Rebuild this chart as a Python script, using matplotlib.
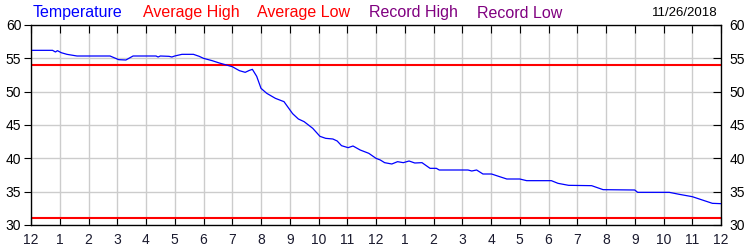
import matplotlib
matplotlib.use("Agg")
import matplotlib.pyplot as plt

plt.rcParams['font.family'] = ['Liberation Sans', 'DejaVu Sans']

# temperature trace, hours since midnight
hours = [0, 0.75, 0.85, 0.92, 1.05, 1.25, 1.6, 2.75, 3.05, 3.3, 3.55,
         4.35, 4.42, 4.5, 4.8, 4.9, 5.0, 5.25, 5.65, 5.85, 6.0, 6.3,
         6.55, 7.0, 7.25, 7.45, 7.6, 7.7, 7.85, 8.0, 8.2, 8.5, 8.8,
         9.0, 9.1, 9.3, 9.5, 9.8, 10.05, 10.25, 10.5, 10.65, 10.8,
         11.03, 11.2, 11.45, 11.75, 12.0, 12.15, 12.3, 12.55, 12.75,
         12.95, 13.15, 13.35, 13.6, 13.88, 14.1, 14.2, 15.2, 15.33,
         15.5, 15.72, 16.02, 16.3, 16.55, 17.0, 17.24, 18.1, 18.33,
         18.7, 19.5, 19.9, 21.0, 21.1, 22.2, 22.55, 23.0, 23.35,
         23.7, 24.0]
temps = [56.2, 56.2, 55.95, 56.15, 55.85, 55.6, 55.35, 55.35, 54.8,
         54.75, 55.35, 55.35, 55.2, 55.35, 55.3, 55.2, 55.35, 55.6,
         55.6, 55.3, 55.0, 54.65, 54.3, 53.75, 53.15, 52.9, 53.2,
         53.35, 52.3, 50.5, 49.75, 49.0, 48.5, 47.3, 46.7, 45.9, 45.5,
         44.5, 43.3, 43.0, 42.9, 42.6, 41.9, 41.6, 41.85, 41.25,
         40.75, 40.0, 39.75, 39.35, 39.15, 39.5, 39.35, 39.6, 39.3,
         39.35, 38.5, 38.5, 38.25, 38.25, 38.1, 38.25, 37.65, 37.65,
         37.25, 36.9, 36.9, 36.65, 36.65, 36.25, 35.95, 35.9, 35.3,
         35.25, 34.9, 34.9, 34.6, 34.25, 33.75, 33.25, 33.2]

avg_high = 54
avg_low = 31

x_labels = ['12', '1', '2', '3', '4', '5', '6', '7', '8', '9', '10', '11',
            '12', '1', '2', '3', '4', '5', '6', '7', '8', '9', '10', '11', '12']
y_ticks = [30, 35, 40, 45, 50, 55, 60]

header = ['Temperature', 'Average High', 'Average Low', 'Record High', 'Record Low']
header_colors = ['#0000ff', '#ff0000', '#ff0000', '#800080', '#800080']
header_x = [33, 143, 257, 369, 477]
date_text = '11/26/2018'

fig = plt.figure(figsize=(7.5, 2.5), dpi=100)
ax = fig.add_axes([31 / 750, 0.1, 690 / 750, 0.8])

ax.plot(hours, temps, color='#0000ff', lw=0.9, zorder=3)
ax.axhline(avg_high, color='#ff0000', lw=1.5, zorder=2)
ax.axhline(avg_low, color='#ff0000', lw=1.5, zorder=2)

ax.set_xlim(0, 24)
ax.set_ylim(30, 60)
ax.set_xticks(range(25))
ax.set_xticklabels(x_labels)
ax.set_yticks(y_ticks)
ax.grid(True, color='#cccccc', lw=1.0, zorder=0)
ax.set_axisbelow(True)
ax.tick_params(axis='x', direction='in', top=True, length=6, width=0.8,
               pad=6, labelsize=10, labelcolor='#1a1a2e')
ax.tick_params(axis='y', direction='out', length=5, width=0.8,
               pad=2, labelsize=10)
for s in ax.spines.values():
    s.set_linewidth(0.9)

ax2 = ax.twinx()
ax2.set_ylim(30, 60)
ax2.set_yticks(y_ticks)
ax2.tick_params(axis='y', direction='in', length=6, width=0.8,
                pad=6, labelsize=10)

for txt, c, px in zip(header, header_colors, header_x):
    fig.text(px / 750, 0.948, txt, color=c, fontsize=11.5,
             ha='left', va='center')
fig.text(718 / 750, 0.948, date_text, color='black', fontsize=9.5,
         ha='right', va='center')

fig.savefig('out.png', dpi=100)
